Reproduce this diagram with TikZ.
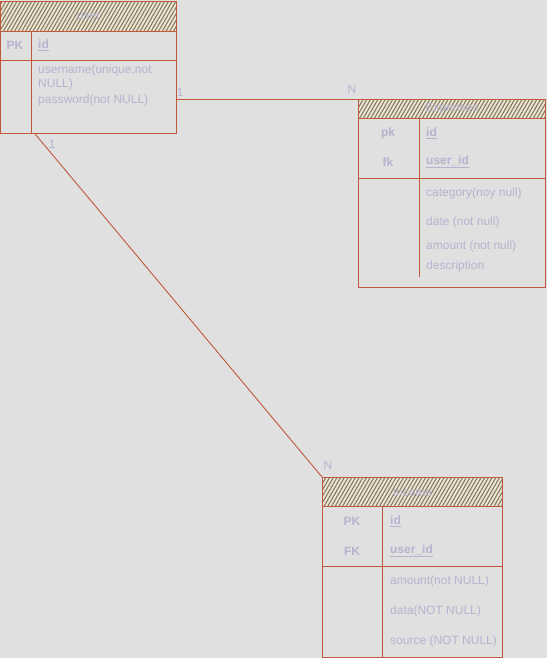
\documentclass[tikz,border=0pt]{standalone}
\usepackage{fontspec}
\setmainfont{Liberation Sans}
\usetikzlibrary{patterns.meta,calc}
\definecolor{bg}{HTML}{E0E0E0}
\definecolor{ln}{HTML}{C0583C}
\definecolor{tx}{HTML}{B4B4D0}
\definecolor{ht}{HTML}{8A7852}
\definecolor{hb}{HTML}{EAE6DE}
\begin{document}
\begin{tikzpicture}[x=1pt,y=-1pt,
  tbl/.style={draw=ln,line width=0.9pt,inner sep=0,anchor=north west},
  hdr/.style={draw=ln,line width=0.9pt,inner sep=0,anchor=north west,
    preaction={fill=hb},
    pattern={Lines[angle=60,distance=3.2pt,line width=1.1pt]},pattern color=ht,
    text=tx,font=\fontsize{12}{14}\selectfont},
  sep/.style={draw=ln,line width=0.9pt},
  key/.style={text=tx,font=\fontsize{12}{14}\selectfont\bfseries,inner sep=0},
  fld/.style={text=tx,font=\fontsize{12}{14}\selectfont,inner sep=0,anchor=west},
  card/.style={text=tx,font=\fontsize{12}{14}\selectfont,inner sep=0},
  rel/.style={draw=ln,line width=0.9pt}]
\fill[bg] (0,0) rectangle (547,658);
\useasboundingbox (0,0) rectangle (547,658);

% user table
\node[tbl,minimum width=176pt,minimum height=132pt] (user) at (0,1) {};
\node[hdr,minimum width=176pt,minimum height=30pt] (userh) at (0,1) {user};
\draw[sep] (0,60) -- (176,60);
\draw[sep] (31,31) -- (31,133);
\node[key] (upk) at (15,45) {PK};
\node[key,anchor=west] (uid) at (38,45) {\underline{id}};
\node[fld] (uf1) at (38,70) {username(unique,not};
\node[fld] (uf2) at (38,84) {NULL)};
\node[fld] (uf3) at (38,100) {password(not NULL)};

% expenses table
\node[tbl,minimum width=187pt,minimum height=188pt] (exp) at (358,99) {};
\node[hdr,minimum width=187pt,minimum height=19pt] (exph) at (358,99) {Expenses};
\draw[sep] (358,178) -- (545,178);
\draw[sep] (419,118) -- (419,277);
\node[key] (epk) at (388,133) {pk};
\node[key,anchor=west] (eid) at (426,133) {\underline{id}};
\node[key] (efk) at (388,162) {fk};
\node[key,anchor=west] (euid) at (426,162) {\underline{user\_id}};
\node[fld] (ef1) at (426,193) {category(noy null)};
\node[fld] (ef2) at (426,222) {date (not null)};
\node[fld] (ef3) at (426,246) {amount (not null)};
\node[fld] (ef4) at (426,266) {description};

% income table
\node[tbl,minimum width=180pt,minimum height=180pt] (inc) at (322,477) {};
\node[hdr,minimum width=180pt,minimum height=29pt] (inch) at (322,477) {Income};
\draw[sep] (322,566) -- (502,566);
\draw[sep] (382,506) -- (382,657);
\node[key] (ipk) at (352,521) {PK};
\node[key,anchor=west] (iid) at (390,521) {\underline{id}};
\node[key] (ifk) at (352,551) {FK};
\node[key,anchor=west] (iuid) at (390,551) {\underline{user\_id}};
\node[fld] (if1) at (390,581) {amount(not NULL)};
\node[fld] (if2) at (390,611) {data(NOT NULL)};
\node[fld] (if3) at (390,641) {source (NOT NULL)};

% relations
\coordinate (ua) at ($(user.south west)+(35,0)$);
\draw[rel] (user.east |- exp.north west) -- (exp.north west);
\draw[rel] (ua) -- (inc.north west);
\node[card] (c1) at (180,92) {1};
\node[card] (c2) at (352,89) {N};
\node[card] (c3) at (52,144) {1};
\node[card] (c4) at (328,465) {N};
\end{tikzpicture}
\end{document}
